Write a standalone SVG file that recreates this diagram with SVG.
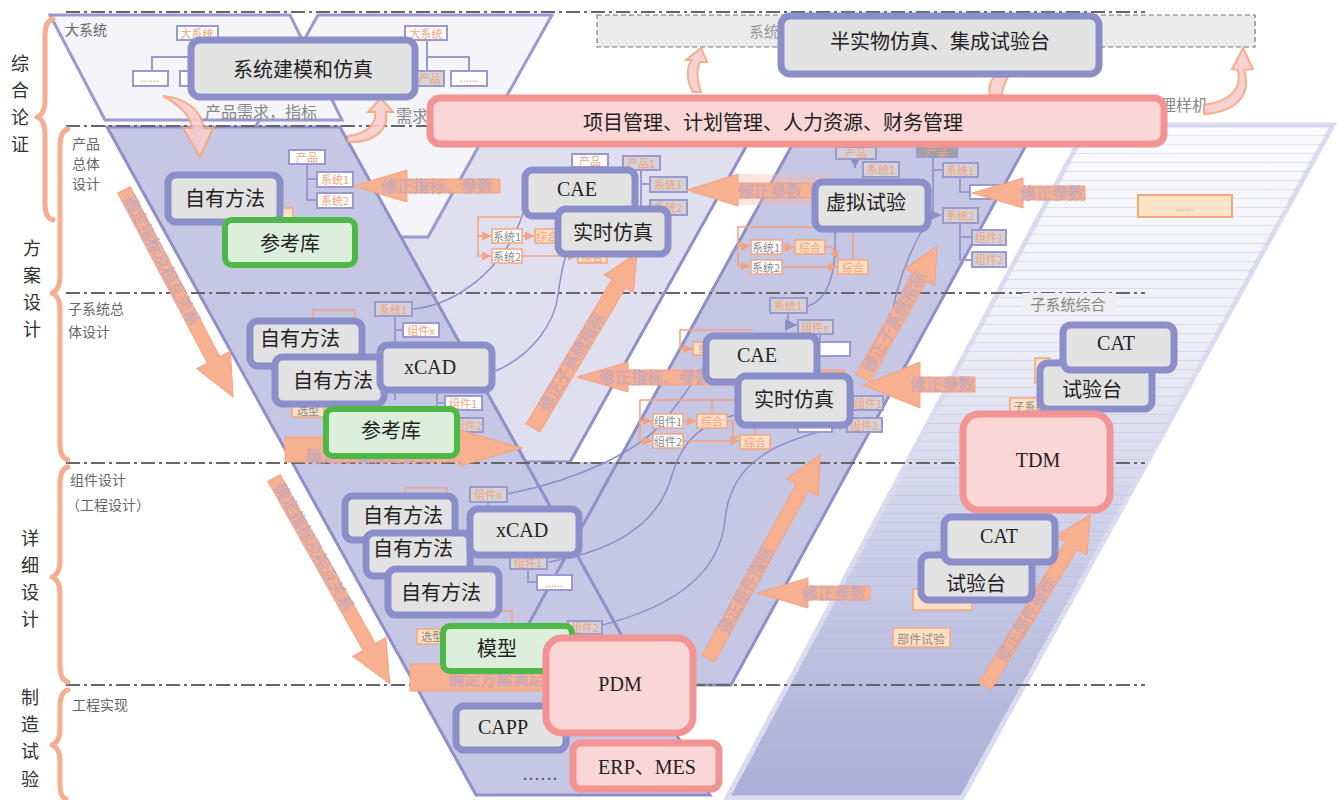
<svg xmlns="http://www.w3.org/2000/svg" width="1337" height="800" viewBox="0 0 1337 800">
<defs>
<style>
.cjk{font-family:"Noto Sans CJK SC",sans-serif}
.mb{fill:#e2e2e2;stroke:#8b8fc9;stroke-width:7}
.gb{fill:#dcefdb;stroke:#4db848;stroke-width:6}
.pb{fill:#fad6d6;stroke:#f29494;stroke-width:7}
.mt{font-family:"Noto Sans CJK SC",sans-serif;font-size:20px;fill:#222;text-anchor:middle;dominant-baseline:central}
.me{font-family:"Liberation Serif","Noto Sans CJK SC",serif;font-size:20px;fill:#222;text-anchor:middle;dominant-baseline:central}
.sb{fill:#fff;stroke:#9a9ad0;stroke-width:2}
.sg{fill:#d3d3d6;stroke:#9a9ad0;stroke-width:2}
.st{font-family:"Noto Sans CJK SC",sans-serif;font-size:11px;fill:#f5a27e;text-anchor:middle;dominant-baseline:central}
.fb{fill:#fff;stroke:#f5a77e;stroke-width:1.5}
.fz{fill:#fde0c5;stroke:#f5a77e;stroke-width:1.5}
.ft{font-family:"Noto Sans CJK SC",sans-serif;font-size:11px;fill:#8a8a8a;text-anchor:middle;dominant-baseline:central}
.tl{fill:none;stroke:#9a9ad0;stroke-width:2}
.ol{fill:none;stroke:#f5a27e;stroke-width:1.5}
.cv{fill:none;stroke:#8b8fc9;stroke-width:1.5}
.ar{fill:#f7b090;stroke:#f5a27e;stroke-width:1}
.at{font-family:"Noto Sans CJK SC",sans-serif;font-size:16px;fill:#f4a98c;stroke:#a7a7da;stroke-width:0.4}
.ca{fill:#f8cdcd;stroke:#f5a77e;stroke-width:2;opacity:0.9}
.dl{stroke:#666;stroke-width:2;stroke-dasharray:14 4 3 4;fill:none}
.br{fill:none;stroke:#f7ae90;stroke-width:5;stroke-linecap:round;stroke-linejoin:round}
.lab{font-family:"Noto Sans CJK SC",sans-serif;font-size:18px;fill:#333;text-anchor:middle}
.rl{font-family:"Noto Sans CJK SC",sans-serif;font-size:14px;fill:#666}
.dark{fill:#c6c7e4}
.dks{fill:none;stroke:#8f90c9;stroke-width:3}
</style>
<linearGradient id="band" x1="0" y1="125" x2="0" y2="800" gradientUnits="userSpaceOnUse">
<stop offset="0" stop-color="#fbfbfd"/>
<stop offset="0.3" stop-color="#eff0f7"/>
<stop offset="0.55" stop-color="#d3d5ea"/>
<stop offset="1" stop-color="#a9aed7"/>
</linearGradient>
<pattern id="stripes" width="10" height="9" patternUnits="userSpaceOnUse">
<line x1="0" y1="0.5" x2="10" y2="0.5" stroke="#b3b7da" stroke-width="1" opacity="0.35"/>
</pattern>
<marker id="mo" viewBox="0 0 6 6" refX="6" refY="3" markerWidth="6" markerHeight="6" orient="auto"><path d="M0,0 L6,3 L0,6 Z" fill="#f5a27e"/></marker>
<marker id="mp" viewBox="0 0 6 6" refX="6" refY="3" markerWidth="6" markerHeight="6" orient="auto"><path d="M0,0 L6,3 L0,6 Z" fill="#8b8fc9"/></marker>
</defs>
<rect width="1337" height="800" fill="#fff"/>

<g id="bands">
<polygon points="1088,125 1333,125 962,798 727,798" fill="url(#band)" stroke="#dcdcf0" stroke-width="5"/>
<polygon points="1088,125 1333,125 962,798 727,798" fill="url(#stripes)"/>
<polygon points="335,127 757,127 570,462 526,462" fill="#dfdff0" stroke="#8f90c9" stroke-width="3"/>
<polygon points="318,15 552,15 428,237 194,237" fill="#f4f4f9" stroke="#9a9ad0" stroke-width="3"/>
<polygon points="50,15 290,15 342,120 105,120" fill="#f4f4f9" stroke="#9a9ad0" stroke-width="3"/>
<polygon class="dark" points="107,127 340,127 710,795 476,795"/>
<polygon class="dark" points="802,127 1036,127 731,685 495,685"/>
<polygon class="dark" points="524,462 620,462 573,545"/>
<polygon class="dks" points="107,127 340,127 710,795 476,795"/>
<polygon class="dks" points="802,127 1036,127 731,685 495,685"/>
</g>

<g id="backtexts">
<rect x="597" y="15" width="658" height="32" fill="#ebebeb" stroke="#777" stroke-width="1.2" stroke-dasharray="5 3"/>
<text x="749" y="37" class="cjk" font-size="15" fill="#999">系统</text>
<text x="205" y="118" class="cjk" font-size="16" fill="#888">产品需求，指标</text>
<text x="396" y="122" class="cjk" font-size="16" fill="#888">需求</text>
<text x="1144" y="111" class="cjk" font-size="16" fill="#888">物理样机</text>
<text x="65" y="35" class="rl">大系统</text>
</g>

<g id="dividers">
<line class="dl" x1="66" y1="12" x2="1145" y2="12"/>
<line class="dl" x1="66" y1="126" x2="1145" y2="126"/>
<line class="dl" x1="66" y1="293" x2="1145" y2="293"/>
<line class="dl" x1="66" y1="463" x2="1145" y2="463"/>
<line class="dl" x1="66" y1="685" x2="1145" y2="685"/>
</g>

<g id="phases">
<path class="br" d="M53,19 Q45,21 45,36 L45,100 Q45,114 37,117 Q45,120 45,134 L45,204 Q45,218 53,220"/>
<path class="br" d="M68,129 Q60,131 60,146 L60,276 Q60,290 52,293 Q60,296 60,310 L60,444 Q60,458 68,460"/>
<path class="br" d="M68,467 Q60,469 60,484 L60,560 Q60,574 52,577 Q60,580 60,594 L60,666 Q60,680 68,682"/>
<path class="br" d="M68,690 Q60,692 60,707 L60,728 Q60,742 52,745 Q60,748 60,762 L60,785 Q60,797 66,799"/>
<text class="lab" x="20" y="70">综</text><text class="lab" x="20" y="97">合</text><text class="lab" x="20" y="124">论</text><text class="lab" x="20" y="151">证</text>
<text class="lab" x="32" y="255">方</text><text class="lab" x="32" y="282">案</text><text class="lab" x="32" y="309">设</text><text class="lab" x="32" y="336">计</text>
<text class="lab" x="30" y="545">详</text><text class="lab" x="30" y="572">细</text><text class="lab" x="30" y="599">设</text><text class="lab" x="30" y="626">计</text>
<text class="lab" x="30" y="704">制</text><text class="lab" x="30" y="731">造</text><text class="lab" x="30" y="758">试</text><text class="lab" x="30" y="786">验</text>
<text class="rl" font-size="15"><tspan x="72" y="149">产品</tspan><tspan x="72" y="169">总体</tspan><tspan x="72" y="189">设计</tspan></text>
<text class="rl" font-size="15"><tspan x="68" y="314">子系统总</tspan><tspan x="68" y="337">体设计</tspan></text>
<text class="rl" font-size="15"><tspan x="70" y="485">组件设计</tspan><tspan x="66" y="510">（工程设计）</tspan></text>
<text class="rl" font-size="15" x="72" y="710">工程实现</text>
</g>

<g id="curved-arrows">
<path class="ca" d="M163,96 C186,98 201,110 204,128 L213,128 L200,157 L183,128 L192,128 C190,115 180,105 163,96 Z"/>
<path class="ca" d="M348,142 C374,143 389,130 386,112 L393,112 L381,98 L368,112 L375,112 C377,124 366,134 348,136 Z"/>
<path class="ca" d="M693,92 C686,80 686,68 692,60 L686,60 L701,48 L707,62 L700,62 C696,70 697,82 701,92 Z"/>
<path class="ca" d="M990,95 C988,88 990,82 994,77 L1008,77 C1004,84 1002,90 1002,95 Z"/>
<path class="ca" d="M1204,114 C1236,112 1252,95 1244,70 L1253,69 L1243,48 L1232,69 L1238,70 C1242,90 1230,101 1204,105 Z"/>
</g>

<g id="connectors">
<path class="cv" d="M413,309 C455,305 505,270 523,213"/>
<path class="cv" d="M493,372 C535,355 555,320 558,295 C560,280 562,268 566,255"/>
<path class="cv" d="M835,231 C836,265 832,298 808,306"/>
<path class="cv" d="M921,232 C903,265 893,300 890,330"/>
<path class="cv" d="M507,494 C580,480 640,450 665,420 C685,395 700,370 713,355"/>
<path class="cv" d="M549,562 C620,550 660,520 672,475 C682,440 705,420 740,414"/>
<path class="cv" d="M580,630 C680,610 720,570 725,520 C730,465 770,440 850,425"/>
<path class="tl" d="M152,71 V57 H191 M427,40 V71 M427,57 H469 V71"/>
<path class="tl" d="M307,164 V200 H317 M307,179 H317"/>
<path class="tl" d="M641,170 V207 H650 M641,184 H650"/>
<path class="tl" d="M855,158 V168" marker-end="url(#mp)"/>
<path class="tl" d="M933,157 V170 H943 M933,170 V215 H941" marker-end="url(#mp)"/>
<path class="tl" d="M960,177 V192 H970 M960,223 V260 H972 M960,237 H972"/>
<path class="tl" d="M395,316 V400 M395,330 H403 M437,390 V425 H453 M437,403 H445"/>
<path class="tl" d="M788,313 V325 H797" marker-end="url(#mp)"/>
<path class="tl" d="M820,334 V349 M840,425 V430"/>
<path class="tl" d="M488,502 V509 M528,569 V582 H537"/>
<path class="ol" d="M280,214 V209 M313,318 V310 H355 V318 M405,495 V488 H447 V495 M502,611 H512 V626"/>
<path class="ol" d="M523,217 H478 V256 H491" marker-end="url(#mo)"/>
<path class="ol" d="M478,236 H491" marker-end="url(#mo)"/>
<path class="ol" d="M522,236 H534" marker-end="url(#mo)"/>
<path class="ol" d="M522,256 H577" marker-end="url(#mo)"/>
<path class="ol" d="M813,227 H738 V266 H750" marker-end="url(#mo)"/>
<path class="ol" d="M738,246 H750" marker-end="url(#mo)"/>
<path class="ol" d="M782,247 H794" marker-end="url(#mo)"/>
<path class="ol" d="M782,267 H837" marker-end="url(#mo)"/>
<path class="ol" d="M825,247 H832 L838,259" marker-end="url(#mo)"/>
<path class="ol" d="M853,232 V259"/>
<path class="ol" d="M753,330 H680 V349 H692" marker-end="url(#mo)"/>
<path class="ol" d="M740,400 H640 V441 H652" marker-end="url(#mo)"/>
<path class="ol" d="M640,421 H652" marker-end="url(#mo)"/>
<path class="ol" d="M683,421 H696" marker-end="url(#mo)"/>
<path class="ol" d="M683,441 H739" marker-end="url(#mo)"/>
<path class="ol" d="M727,421 H733 V437 H739 M712,400 V413 M755,426 V435"/>
</g>

<g id="small-boxes">
<rect class="sb" x="177" y="26" width="41" height="14"/><text class="st" x="197" y="33">大系统</text>
<rect class="sb" x="133" y="71" width="35" height="15"/><text class="st" x="150" y="77">......</text>
<rect class="sb" x="180" y="71" width="34" height="15"/>
<rect class="sb" x="405" y="26" width="42" height="14"/><text class="st" x="426" y="33">大系统</text>
<rect class="sg" x="412" y="71" width="32" height="15"/><text class="st" x="430" y="78">产品</text>
<rect class="sb" x="451" y="71" width="36" height="15"/><text class="st" x="469" y="77">......</text>
<rect class="sb" x="289" y="150" width="36" height="14"/><text class="st" x="307" y="157">产品</text>
<rect class="sb" x="317" y="172" width="36" height="15"/><text class="st" x="335" y="179">系统1</text>
<rect class="sb" x="317" y="193" width="36" height="15"/><text class="st" x="335" y="200">系统2</text>
<rect class="fz" x="280" y="208" width="13" height="10"/>
<rect class="sb" x="572" y="154" width="36" height="13"/><text class="st" x="590" y="161">产品</text>
<rect class="sg" x="623" y="156" width="37" height="14"/><text class="st" x="641" y="163">产品1</text>
<rect class="sg" x="650" y="177" width="37" height="15"/><text class="st" x="668" y="184">系统1</text>
<rect class="sg" x="650" y="200" width="37" height="15"/><text class="st" x="668" y="207">系统2</text>
<rect class="fb" x="492" y="229" width="30" height="14"/><text class="ft" x="507" y="236">系统1</text>
<rect class="fz" x="535" y="229" width="25" height="14"/><text class="st" x="547" y="236">综合</text>
<rect class="fb" x="492" y="249" width="30" height="14"/><text class="ft" x="507" y="256">系统2</text>
<rect class="fz" x="578" y="250" width="29" height="13"/><text class="st" x="592" y="257">综合</text>
<rect class="sg" x="836" y="147" width="40" height="12"/><text class="st" x="856" y="153">产品</text>
<rect class="sg" x="863" y="162" width="36" height="15"/><text class="st" x="881" y="169">系统1</text>
<rect x="917" y="145" width="40" height="12" fill="#a0a0a4" stroke="#9a9ad0" stroke-width="2"/><text class="st" x="937" y="151">产品</text>
<rect class="sg" x="943" y="163" width="35" height="14"/><text class="st" x="960" y="170">系统1</text>
<rect class="sb" x="970" y="185" width="40" height="14"/><text class="st" x="990" y="191">......</text>
<rect class="sg" x="943" y="208" width="35" height="15"/><text class="st" x="960" y="215">系统2</text>
<rect class="sg" x="972" y="230" width="34" height="15"/><text class="st" x="989" y="237">组件1</text>
<rect class="sg" x="972" y="252" width="34" height="15"/><text class="st" x="989" y="259">组件2</text>
<rect class="fb" x="751" y="240" width="31" height="14"/><text class="ft" x="766" y="247">系统1</text>
<rect class="fz" x="795" y="240" width="30" height="14"/><text class="st" x="810" y="247">综合</text>
<rect class="fb" x="751" y="260" width="31" height="14"/><text class="ft" x="766" y="267">系统2</text>
<rect class="fz" x="838" y="260" width="30" height="14"/><text class="st" x="853" y="267">综合</text>
<rect class="sg" x="375" y="302" width="37" height="14"/><text class="st" x="393" y="309">系统1</text>
<rect class="sb" x="403" y="323" width="36" height="14"/><text class="st" x="421" y="330">组件x</text>
<rect class="sb" x="445" y="396" width="37" height="14"/><text class="st" x="463" y="403">组件1</text>
<rect class="sg" x="453" y="418" width="30" height="14"/><text class="st" x="468" y="425">组件2</text>
<rect class="fz" x="292" y="404" width="32" height="13"/><text class="ft" x="308" y="410">选型</text>
<rect class="sg" x="770" y="298" width="37" height="15"/><text class="st" x="788" y="305">系统1</text>
<rect class="sg" x="798" y="320" width="35" height="14"/><text class="st" x="815" y="327">组件x</text>
<rect class="sb" x="815" y="342" width="35" height="14"/>
<rect class="fz" x="693" y="342" width="22" height="13"/><text class="st" x="704" y="348">综</text>
<rect class="sb" x="798" y="422" width="34" height="10"/>
<rect class="sg" x="853" y="396" width="30" height="14"/><text class="st" x="868" y="403">组件1</text>
<rect class="sg" x="847" y="418" width="35" height="14"/><text class="st" x="864" y="425">组件2</text>
<rect class="fb" x="653" y="414" width="30" height="14"/><text class="ft" x="668" y="421">组件1</text>
<rect class="fz" x="697" y="414" width="30" height="14"/><text class="st" x="712" y="421">综合</text>
<rect class="fb" x="653" y="434" width="30" height="14"/><text class="ft" x="668" y="441">组件2</text>
<rect class="fz" x="740" y="435" width="30" height="14"/><text class="st" x="755" y="442">综合</text>
<rect class="sg" x="470" y="487" width="37" height="15"/><text class="st" x="488" y="494">组件x</text>
<rect class="sg" x="510" y="556" width="37" height="13"/><text class="st" x="528" y="562">组件1</text>
<rect class="sb" x="537" y="575" width="35" height="15"/><text class="st" x="554" y="582">......</text>
<rect class="fz" x="417" y="629" width="30" height="15"/><text class="ft" x="432" y="636">选型</text>
<rect class="sg" x="568" y="621" width="34" height="13"/><text class="st" x="585" y="627">组件2</text>
<rect class="fz" x="913" y="589" width="59" height="21"/>
<rect class="fz" x="1010" y="398" width="40" height="16"/><text class="ft" x="1030" y="406">子系统</text>
<rect class="fz" x="1035" y="358" width="15" height="25"/>
</g>

<g id="block-arrows">
<polygon class="ar" points="353,186 407,170 407,179 500,179 500,193 407,193 407,202"/>
<text class="at" x="381" y="192">修正指标、参数</text>
<rect x="738" y="174" width="92" height="31" fill="#f7b8a0" opacity="0.35"/>
<polygon class="ar" points="687,190 738,174 738,183 820,183 820,198 738,198 738,206"/>
<text class="at" x="738" y="197">修正参数</text>
<polygon class="ar" points="972,193 1023,178 1023,186 1085,186 1085,200 1023,200 1023,208"/>
<text class="at" x="1020" y="199">修正参数</text>
<polygon class="ar" points="577,377 628,362 628,370 845,370 845,385 628,385 628,392"/>
<text class="at" x="599" y="383">修正指标、参数</text>
<polygon class="ar" points="863,385 920,362 920,377 975,377 975,392 920,392 920,408"/>
<text class="at" x="910" y="390">修正参数</text>
<polygon class="ar" points="757,593 808,578 808,586 870,586 870,600 808,600 808,608"/>
<text class="at" x="802" y="599">修正参数</text>
<polygon class="ar" points="285,437 460,437 460,430 522,448 460,466 460,462 285,462"/>
<text class="at" x="306" y="462" font-size="12">确定方案满足要求</text>
<rect class="ar" x="410" y="664" width="150" height="27"/>
<text class="at" x="448" y="685" font-size="15">确定方案满足</text>
<g transform="translate(124,190) rotate(62.2)">
<polygon class="ar" points="0,-7 192,-7 192,-19 234,0 192,19 192,7 0,7"/>
<text class="at" x="8" y="5" font-size="14">确定指标及相互关系</text>
</g>
<g transform="translate(274,478) rotate(60.6)">
<polygon class="ar" points="0,-7 194,-7 194,-19 236,0 194,19 194,7 0,7"/>
<text class="at" x="8" y="5" font-size="14">确定指标及相互关系</text>
</g>
<g transform="translate(533,428) rotate(-59.3)">
<polygon class="ar" points="0,-8 168,-8 168,-17 204,0 168,17 168,8 0,8"/>
<text class="at" x="20" y="5" font-size="14">修正子系统指标</text>
</g>
<g transform="translate(863,378) rotate(-60.7)">
<polygon class="ar" points="0,-8 116,-8 116,-17 151,0 116,17 116,8 0,8"/>
<text class="at" x="8" y="5" font-size="13">修正子系统指标</text>
</g>
<g transform="translate(708,659) rotate(-61.2)">
<polygon class="ar" points="0,-7 196,-7 196,-18 233,0 196,18 196,7 0,7"/>
<text class="at" x="30" y="5" font-size="14">修正组件指标</text>
</g>
<g transform="translate(985,686) rotate(-58.4)">
<polygon class="ar" points="0,-7 165,-7 165,-18 201,0 165,18 165,7 0,7"/>
<text class="at" x="30" y="5" font-size="14">修正部件指标</text>
</g>
</g>

<g id="n-pm"><rect class="pb" x="430" y="98" width="734" height="46" rx="10"/><text class="mt" x="773" y="121">项目管理、计划管理、人力资源、财务管理</text></g>
<g id="n-sysmod"><rect class="mb" x="191" y="40" width="224" height="57" rx="9"/><text class="mt" x="303" y="68" font-size="22">系统建模和仿真</text></g>
<g id="n-hil"><rect class="mb" x="781" y="16" width="318" height="58" rx="9"/><text class="mt" x="940" y="40" font-size="21">半实物仿真、集成试验台</text></g>
<g id="n-own1"><rect class="mb" x="168" y="175" width="112" height="47" rx="8"/><text class="mt" x="225" y="197" font-size="21">自有方法</text></g>
<g id="n-ref1"><rect class="gb" x="225" y="220" width="130" height="45" rx="7"/><text class="mt" x="290" y="242">参考库</text></g>
<g id="n-cae1"><rect class="mb" x="525" y="170" width="110" height="46" rx="8"/><text class="me" x="577" y="189">CAE</text></g>
<g id="n-rt1"><rect class="mb" x="558" y="209" width="110" height="45" rx="8"/><text class="mt" x="613" y="231">实时仿真</text></g>
<g id="n-virt"><rect class="mb" x="815" y="182" width="113" height="47" rx="8"/><text class="mt" x="866" y="201">虚拟试验</text></g>
<g id="n-own2"><rect class="mb" x="250" y="321" width="112" height="45" rx="8"/><text class="mt" x="300" y="337" font-size="21">自有方法</text></g>
<g id="n-own3"><rect class="mb" x="275" y="357" width="109" height="47" rx="8"/><text class="mt" x="333" y="379" font-size="21">自有方法</text></g>
<g id="n-xcad1"><rect class="mb" x="380" y="345" width="112" height="45" rx="8"/><text class="me" x="430" y="367">xCAD</text></g>
<g id="n-ref2"><rect class="gb" x="326" y="409" width="131" height="47" rx="7"/><text class="mt" x="391" y="429">参考库</text></g>
<g id="n-cae2"><rect class="mb" x="706" y="336" width="111" height="46" rx="8"/><text class="me" x="757" y="355">CAE</text></g>
<g id="n-rt2"><rect class="mb" x="738" y="376" width="112" height="49" rx="8"/><text class="mt" x="794" y="398">实时仿真</text></g>
<g id="n-own4"><rect class="mb" x="345" y="496" width="110" height="44" rx="8"/><text class="mt" x="403" y="514" font-size="21">自有方法</text></g>
<g id="n-own5"><rect class="mb" x="366" y="533" width="104" height="43" rx="8"/><text class="mt" x="413" y="547" font-size="21">自有方法</text></g>
<g id="n-own6"><rect class="mb" x="388" y="569" width="111" height="46" rx="8"/><text class="mt" x="441" y="591" font-size="21">自有方法</text></g>
<g id="n-xcad2"><rect class="mb" x="470" y="509" width="109" height="46" rx="8"/><text class="me" x="522" y="530">xCAD</text></g>
<g id="n-model"><rect class="gb" x="443" y="626" width="129" height="45" rx="7"/><text class="mt" x="497" y="647">模型</text></g>
<g id="n-capp"><rect class="mb" x="456" y="706" width="110" height="44" rx="8"/><text class="me" x="503" y="727">CAPP</text></g>
<g id="n-pdm"><rect class="pb" x="546" y="638" width="147" height="95" rx="16"/><text class="me" x="620" y="684">PDM</text></g>
<g id="n-erp"><rect class="pb" x="573" y="743" width="146" height="46" rx="8"/><text class="me" x="647" y="767">ERP、MES</text></g>
<text x="540" y="780" font-family="Liberation Serif,serif" font-size="18" fill="#555" text-anchor="middle">……</text>
<g id="n-subint"><rect x="1022" y="293" width="93" height="19" fill="#eeeeee"/><text x="1068" y="303" class="cjk" font-size="15" fill="#888" text-anchor="middle" dominant-baseline="central">子系统综合</text></g>
<g id="n-dots"><rect x="1138" y="195" width="94" height="22" fill="#fde3c8" stroke="#f5a77e" stroke-width="2"/><text x="1185" y="206" class="st" fill="#777">......</text></g>
<g id="n-bench1"><rect class="mb" x="1040" y="363" width="112" height="46" rx="8"/><text class="mt" x="1092" y="388">试验台</text></g>
<g id="n-cat1"><rect class="mb" x="1063" y="325" width="111" height="45" rx="8"/><text class="me" x="1116" y="343">CAT</text></g>
<g id="n-tdm"><rect class="pb" x="963" y="414" width="147" height="96" rx="16"/><text class="me" x="1038" y="460">TDM</text></g>
<g id="n-parttest"><rect class="fz" x="893" y="628" width="57" height="19"/><text x="921" y="638" class="cjk" font-size="12" fill="#9a8a80" text-anchor="middle" dominant-baseline="central">部件试验</text></g>
<g id="n-bench2"><rect class="mb" x="921" y="555" width="111" height="45" rx="8"/><text class="mt" x="976" y="582">试验台</text></g>
<g id="n-cat2"><rect class="mb" x="944" y="517" width="111" height="45" rx="8"/><text class="me" x="999" y="536">CAT</text></g>
</svg>
